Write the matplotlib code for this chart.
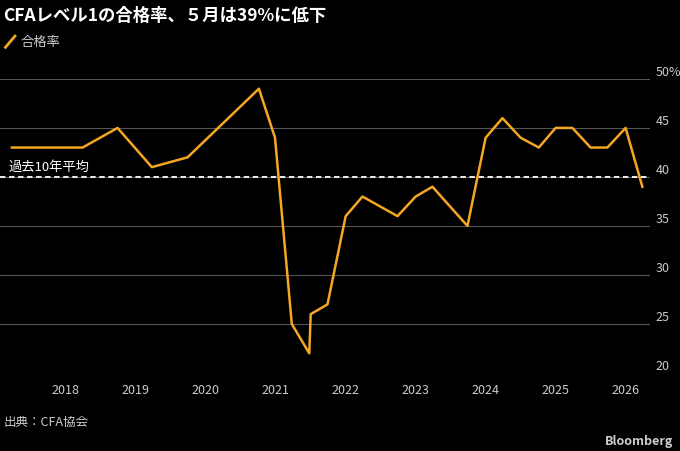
import matplotlib
matplotlib.use("Agg")
import matplotlib.pyplot as plt

plt.rcParams['font.family'] = ['Noto Sans CJK JP', 'DejaVu Sans']

dates = [2017.23, 2018.24, 2018.74, 2019.23, 2019.74, 2020.76, 2020.99, 2021.23, 2021.48, 2021.5,
         2021.74, 2022.0, 2022.24, 2022.74, 2023.0, 2023.24, 2023.74, 2024.0, 2024.24, 2024.5,
         2024.76, 2025.0, 2025.24, 2025.5, 2025.74, 2026.0, 2026.24]
rates = [43, 43, 45, 41, 42, 49, 44, 25, 22, 26, 27, 36, 38, 36, 38, 39, 35, 44, 46, 44,
         43, 45, 45, 43, 43, 45, 39]
avg10 = 40
years = list(range(2018, 2027))
yticks = [20, 25, 30, 35, 40, 45, 50]

fig = plt.figure(figsize=(6.8, 4.51), dpi=100, facecolor='black')
ax = fig.add_axes([0.0, 0.173, 0.956, 0.652], facecolor='black')
for y in yticks[1:]:
    ax.axhline(y, color='#555555', lw=0.8, zorder=1)
ax.axhline(avg10, color='white', lw=1.3, ls=(0, (3, 2)), zorder=2)
ax.text(2017.18, avg10 + 0.3, '過去10年平均', color='white', fontsize=9.5, va='bottom')
ax.plot(dates, rates, color='#f5a623', lw=1.8, zorder=3)
ax.set_xlim(2017.06, 2026.35)
ax.set_ylim(20, 50)
ax.set_xticks(years)
ax.set_xticklabels([str(y) for y in years], color='#cccccc', fontsize=9)
ax.yaxis.tick_right()
ax.set_yticks(yticks)
ax.set_yticklabels(['20', '25', '30', '35', '40', '45', '50%'], color='#cccccc', fontsize=9)
ax.tick_params(axis='x', length=0, pad=8)
ax.tick_params(axis='y', length=0, pad=4)
for lab in ax.get_yticklabels():
    lab.set_verticalalignment('bottom')
for s in ax.spines.values():
    s.set_visible(False)

fig.text(0.005, 0.965, 'CFAレベル1の合格率、５月は39%に低下', color='white', fontsize=12.5, fontweight='bold', va='center')
fig.lines.append(plt.Line2D([0.008, 0.022], [0.895, 0.92], color='#f5a623', lw=2, transform=fig.transFigure))
fig.text(0.03, 0.905, '合格率', color='#cccccc', fontsize=9.5, va='center')
fig.text(0.005, 0.063, '出典：CFA協会', color='#cccccc', fontsize=9, va='center')
fig.text(0.99, 0.022, 'Bloomberg', color='#cccccc', fontsize=9, fontweight='bold', ha='right', va='center')
fig.savefig('out.png', facecolor='black')
